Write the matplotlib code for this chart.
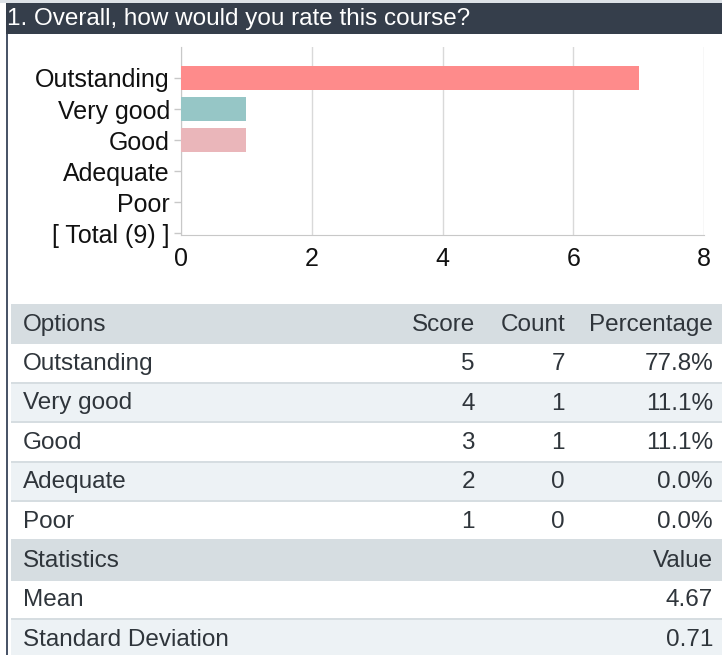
import matplotlib
matplotlib.use("Agg")
import matplotlib.pyplot as plt
from matplotlib.patches import Rectangle

plt.rcParams['font.family'] = ['Liberation Sans', 'DejaVu Sans']

title = "1. Overall, how would you rate this course?"
categories = ["Outstanding", "Very good", "Good", "Adequate", "Poor"]
total_label = "[ Total (9) ]"
counts = [7, 1, 1, 0, 0]
scores = [5, 4, 3, 2, 1]
percentages = [77.8, 11.1, 11.1, 0.0, 0.0]
bar_colors = ["#fe8b8b", "#96c6c6", "#eab6ba", "#cccccc", "#cccccc"]
x_ticks = [0, 2, 4, 6, 8]
stat_names = ["Mean", "Standard Deviation"]
stat_values = [4.67, 0.71]

W, H = 722, 655
fig = plt.figure(figsize=(W / 100, H / 100), dpi=100)
fig.patch.set_facecolor("white")

# overlay axes in pixel coords
ov = fig.add_axes([0, 0, 1, 1])
ov.set_xlim(0, W)
ov.set_ylim(H, 0)
ov.axis("off")

FS = 17.5
FS_AX = 18
TXT = "#2f353b"

# top strip + title bar
ov.add_patch(Rectangle((0, 0), W, 3, color="#dde2e7", lw=0))
ov.add_patch(Rectangle((6, 3), W - 6, 31, color="#353e4b", lw=0))
ov.text(7, 19, title, color="white", fontsize=FS, va="center", ha="left")
# left border line
ov.add_patch(Rectangle((6, 34), 2.2, H - 34, color="#4a5568", lw=0))

# bar chart axes
L, R, T, B = 181, 704, 47, 235
ax = fig.add_axes([L / W, 1 - B / H, (R - L) / W, (B - T) / H])
ypos = list(range(len(categories)))
ax.barh(ypos, counts, height=0.77, color=bar_colors, zorder=3)
ax.set_xlim(0, 8)
ax.set_ylim(5 + 2 / 31, -1)
ax.set_yticks(ypos + [len(categories)])
ax.set_yticklabels(categories + [total_label], fontsize=FS_AX, color="#111111")
ax.set_xticks(x_ticks)
ax.set_xticklabels([str(t) for t in x_ticks], fontsize=FS_AX, color="#111111")
ax.tick_params(axis="y", length=5, width=1, color="#c8c8c8", pad=3)
ax.tick_params(axis="x", length=0, pad=9)
ax.grid(axis="x", color="#d9d9d9", lw=1, zorder=0)
for s in ["top", "right"]:
    ax.spines[s].set_visible(False)
ax.spines["left"].set_color("#c8c8c8")
ax.spines["bottom"].set_color("#c8c8c8")
ax.set_facecolor("none")

# table
TL = 11
row_h = 39.4
y0 = 304
HEAD = "#d6dde1"
LIGHT = "#edf2f5"
SEP = "#d6dde1"
x_opt = 23
x_score = 475
x_count = 565
x_pct = 713

rows = []
rows.append(("head", ["Options", "Score", "Count", "Percentage"]))
for c, s, n, p in zip(categories, scores, counts, percentages):
    rows.append(("data", [c, str(s), str(n), f"{p:.1f}%"]))
rows.append(("head", ["Statistics", "", "", "Value"]))
for nm, v in zip(stat_names, stat_values):
    rows.append(("data", [nm, "", "", f"{v:.2f}"]))

stripe = 0
for i, (kind, cells) in enumerate(rows):
    top = y0 + i * row_h
    if kind == "head":
        bg = HEAD
        stripe = 0
    else:
        bg = "white" if stripe % 2 == 0 else LIGHT
        stripe += 1
    ov.add_patch(Rectangle((TL, top), W - TL, row_h, color=bg, lw=0))
    if i > 0:
        ov.add_patch(Rectangle((TL, top - 1), W - TL, 2, color=SEP, lw=0))
    cy = top + row_h / 2 + 1
    ov.text(x_opt, cy, cells[0], fontsize=FS, color=TXT, va="center", ha="left")
    if cells[1]:
        ov.text(x_score, cy, cells[1], fontsize=FS, color=TXT, va="center", ha="right")
    if cells[2]:
        ov.text(x_count, cy, cells[2], fontsize=FS, color=TXT, va="center", ha="right")
    ov.text(x_pct, cy, cells[3], fontsize=FS, color=TXT, va="center", ha="right")

fig.savefig("out.png", dpi=100)
